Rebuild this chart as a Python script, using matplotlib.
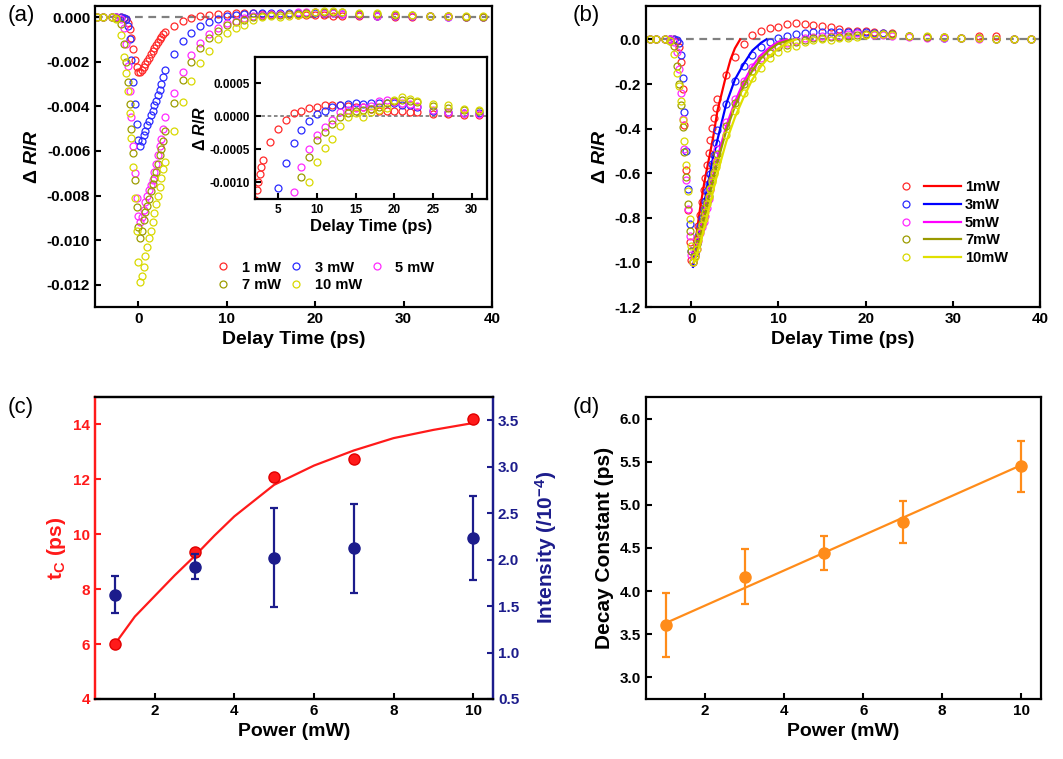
import numpy as np
import matplotlib
matplotlib.use("Agg")
import matplotlib.pyplot as plt
from matplotlib.legend_handler import HandlerTuple
import matplotlib.ticker as mtick

plt.rcParams["font.family"] = "Liberation Sans"
plt.rcParams["font.weight"] = "bold"
plt.rcParams["axes.labelweight"] = "bold"
plt.rcParams["axes.unicode_minus"] = False
plt.rcParams["mathtext.fontset"] = "custom"
plt.rcParams["mathtext.rm"] = "Liberation Sans:bold"
plt.rcParams["mathtext.it"] = "Liberation Sans:bold:italic"
plt.rcParams["mathtext.bf"] = "Liberation Sans:bold"
plt.rcParams["axes.linewidth"] = 1.6
for ax_name in ["xtick", "ytick"]:
    plt.rcParams[ax_name + ".direction"] = "in"
    plt.rcParams[ax_name + ".major.size"] = 4.5
    plt.rcParams[ax_name + ".major.width"] = 1.5
    plt.rcParams[ax_name + ".labelsize"] = 11

# %% data -- (a) raw transient reflectivity, units of 1e-3
delay = [-4.7, -4.0, -3.0, -2.5, -2.0,
         -1.6, -1.4, -1.2, -1.0, -0.8, -0.6, -0.4, -0.2, 0.0, 0.2, 0.4, 0.6,
         0.8, 1.0, 1.2, 1.4, 1.6, 1.8, 2.0, 2.2, 2.4, 2.6, 2.8, 3.0,
         4, 5, 6, 7, 8, 9, 10, 11, 12, 13, 14, 15, 16, 17, 18, 19, 20, 21, 22, 23,
         25, 27, 29, 31, 33, 35, 37, 39]

dr_1mw = [0.0, 0.01, 0.0, 0.01, 0.0,
          -0.02, -0.08, -0.25, -0.55, -0.95, -1.45, -1.9, -2.25, -2.45, -2.48, -2.38, -2.22,
          -2.08, -1.95, -1.81, -1.67, -1.54, -1.40, -1.26, -1.12, -0.99, -0.87, -0.76, -0.66,
          -0.39, -0.19, -0.05, 0.05, 0.09, 0.13, 0.14, 0.17, 0.18, 0.17, 0.16, 0.15, 0.14, 0.12, 0.09, 0.09, 0.09, 0.08, 0.07, 0.07,
          0.04, 0.03, 0.025, 0.015, 0.04, 0.04, 0.0, 0.01]
dr_3mw = [0.0, 0.0, 0.01, 0.0, 0.0,
          -0.02, -0.1, -0.4, -1.0, -1.9, -2.9, -3.9, -4.8, -5.5, -5.8, -5.55, -5.3,
          -5.1, -4.85, -4.65, -4.4, -4.2, -3.95, -3.75, -3.5, -3.25, -3.0, -2.7, -2.35,
          -1.67, -1.09, -0.7, -0.4, -0.2, -0.07, 0.03, 0.09, 0.14, 0.17, 0.19, 0.2, 0.19, 0.2, 0.2, 0.2, 0.2, 0.18, 0.17, 0.15,
          0.09, 0.07, 0.05, 0.05, 0.03, 0.02, 0.01, 0.02]
dr_5mw = [0.0, 0.0, 0.0, 0.0, -0.1,
          -0.5, -1.2, -2.2, -3.3, -4.5, -5.8, -7.0, -8.1, -8.9, -9.2, -8.95, -8.65,
          -8.3, -8.0, -7.75, -7.55, -7.3, -6.95, -6.6, -6.2, -5.8, -5.45, -5.0, -4.5,
          -3.4, -2.45, -1.7, -1.15, -0.76, -0.49, -0.28, -0.16, -0.06, 0.06, 0.1, 0.13, 0.14, 0.16, 0.24, 0.25, 0.22, 0.2, 0.19, 0.16,
          0.1, 0.07, 0.05, 0.04, 0.03, 0.0, 0.02, 0.01]
dr_7mw = [0.0, 0.0, 0.0, -0.05, -0.3,
          -1.2, -2.0, -2.9, -3.9, -5.0, -6.1, -7.3, -8.5, -9.4, -9.9, -9.6, -9.1,
          -8.75, -8.45, -8.15, -7.8, -7.5, -7.2, -6.95, -6.6, -6.2, -5.9, -5.55, -5.1,
          -3.85, -2.8, -2.0, -1.4, -0.92, -0.61, -0.35, -0.24, -0.11, -0.01, 0.05, 0.08, 0.1, 0.12, 0.15, 0.2, 0.23, 0.25, 0.24, 0.22,
          0.16, 0.13, 0.1, 0.08, 0.05, 0.03, 0.02, 0.02]
dr_10mw = [0.0, 0.0, 0.0, -0.1, -0.8,
           -1.8, -2.5, -3.3, -4.3, -5.4, -6.7, -8.1, -9.6, -11.0, -11.9, -11.6, -11.2,
           -10.7, -10.3, -9.9, -9.6, -9.2, -8.8, -8.4, -8.0, -7.6, -7.2, -6.8, -6.5,
           -5.1, -3.8, -2.85, -2.05, -1.5, -1.0, -0.69, -0.48, -0.34, -0.15, -0.01, 0.05, -0.01, 0.07, 0.1, 0.13, 0.25, 0.29, 0.27, 0.23,
           0.19, 0.17, 0.12, 0.1, 0.07, 0.05, 0.04, 0.03]

series = [dr_1mw, dr_3mw, dr_5mw, dr_7mw, dr_10mw]
labels_a = ["1 mW", "3 mW", "5 mW", "7 mW", "10 mW"]
labels_b = ["1mW", "3mW", "5mW", "7mW", "10mW"]
colors = ["#FF2A2A", "#2A2AFF", "#FF2AFF", "#9C9C00", "#D9D900"]
line_colors = ["#FF0000", "#0000FF", "#FF00FF", "#999900", "#E0E000"]

# (b) fitted decays (normalized)
fit_t = [
    [0.2, 0.5, 1.0, 1.5, 2.0, 2.5, 3.0, 3.5, 4.0, 4.5, 5.0, 5.6],
    [0.2, 0.5, 1.0, 1.5, 2.0, 2.5, 3.0, 3.5, 4.0, 5.0, 6.0, 7.0, 8.0, 8.6],
    [0.3, 0.5, 1.0, 1.5, 2.0, 2.5, 3.0, 4.0, 5.0, 6.0, 7.0, 8.0, 9.0, 10.0, 11.0],
    [0.3, 0.5, 1.0, 1.5, 2.0, 2.5, 3.0, 4.0, 5.0, 6.0, 7.0, 8.0, 9.0, 10.0, 11.5],
    [0.3, 0.5, 1.0, 1.5, 2.0, 2.5, 3.0, 4.0, 5.0, 6.0, 7.0, 8.0, 9.0, 10.0, 11.0, 12.0],
]
fit_y = [
    [-0.97, -0.9, -0.76, -0.64, -0.54, -0.44, -0.32, -0.24, -0.16, -0.09, -0.04, 0.0],
    [-1.02, -0.95, -0.84, -0.73, -0.63, -0.53, -0.45, -0.37, -0.29, -0.18, -0.11, -0.05, -0.015, 0.0],
    [-1.0, -0.96, -0.87, -0.78, -0.69, -0.61, -0.53, -0.39, -0.28, -0.19, -0.12, -0.07, -0.035, -0.01, 0.0],
    [-1.0, -0.97, -0.89, -0.8, -0.71, -0.63, -0.55, -0.41, -0.3, -0.21, -0.14, -0.085, -0.045, -0.018, 0.0],
    [-1.0, -0.98, -0.92, -0.84, -0.76, -0.68, -0.6, -0.46, -0.35, -0.26, -0.18, -0.12, -0.075, -0.04, -0.015, 0.0],
]

# (c) and (d)
power = [1, 3, 5, 7, 10]
t_c = [6.0, 9.35, 12.1, 12.75, 14.2]
tc_fit_power = [1, 1.5, 2, 2.5, 3, 3.5, 4, 5, 6, 7, 8, 9, 10]
tc_fit = [6.0, 7.0, 7.75, 8.5, 9.2, 9.95, 10.65, 11.8, 12.5, 13.05, 13.5, 13.8, 14.05]
intensity = [1.62, 1.925, 2.02, 2.12, 2.23]
intensity_err = [0.2, 0.13, 0.53, 0.48, 0.455]
decay = [3.61, 4.165, 4.444, 4.797, 5.445]
decay_err = [0.37, 0.32, 0.2, 0.245, 0.3]
decay_fit_power = [1, 10]
decay_fit = [3.63, 5.46]

# %% figure
fig = plt.figure(figsize=(10.63, 7.59), dpi=100)
ax_a = fig.add_axes([0.0894, 0.5955, 0.3735, 0.3966])
ax_in = fig.add_axes([0.2399, 0.7378, 0.2183, 0.1871])
ax_b = fig.add_axes([0.6077, 0.5955, 0.3706, 0.3966])
ax_c = fig.add_axes([0.0894, 0.0791, 0.3744, 0.3979])
ax_d = fig.add_axes([0.6077, 0.0791, 0.3716, 0.3979])

delay = np.array(delay)

# (a)
handles_a = []
for ser, col, lab in zip(series, colors, labels_a):
    y = np.array(ser) * 1e-3
    h, = ax_a.plot(delay, y, "o", mfc="none", mec=col, ms=5, mew=0.9, label=lab)
    handles_a.append(h)
    ax_in.plot(delay, y, "o", mfc="none", mec=col, ms=5, mew=0.9)
ax_a.axhline(0, color="#808080", lw=1.6, dashes=(3.5, 2.5), zorder=0)
ax_a.set_xlim(-4.9, 40)
ax_a.set_ylim(-0.013, 0.0005)
ax_a.set_xticks([0, 10, 20, 30, 40])
ax_a.set_yticks([0, -0.002, -0.004, -0.006, -0.008, -0.010, -0.012])
ax_a.yaxis.set_major_formatter(mtick.FormatStrFormatter("%.3f"))
ax_a.set_xlabel("Delay Time (ps)", fontsize=14)
ax_a.set_ylabel("Δ $\\mathit{R/R}$", fontsize=14)
order = [0, 3, 1, 4, 2]
ax_a.legend([handles_a[i] for i in order], [labels_a[i] for i in order], ncol=3,
            loc="lower left", bbox_to_anchor=(0.29, 0.03), frameon=False,
            fontsize=10.5, handlelength=1.0, handletextpad=0.8,
            columnspacing=0.5, labelspacing=0.25, borderaxespad=0)

# inset
ax_in.axhline(0, color="#808080", lw=1.3, dashes=(2, 1.5), zorder=0)
ax_in.set_xlim(2, 32)
ax_in.set_ylim(-0.00125, 0.0009)
ax_in.set_xticks([5, 10, 15, 20, 25, 30])
ax_in.set_yticks([-0.001, -0.0005, 0, 0.0005])
ax_in.yaxis.set_major_formatter(mtick.FormatStrFormatter("%.4f"))
ax_in.tick_params(labelsize=8.5)
ax_in.set_xlabel("Delay Time (ps)", fontsize=12, labelpad=2)
ax_in.set_ylabel("Δ $\\mathit{R/R}$", fontsize=11.5, labelpad=1)
ax_in.set_facecolor("white")

# (b)
handles_b = []
for ser, col, lcol, ft, fy, lab in zip(series, colors, line_colors, fit_t, fit_y, labels_b):
    y = np.array(ser)
    y = y / abs(y.min())
    hm, = ax_b.plot(delay, y, "o", mfc="none", mec=col, ms=5, mew=0.9)
    hl, = ax_b.plot(ft, fy, "-", color=lcol, lw=1.6)
    handles_b.append((hm, hl))
ax_b.axhline(0, color="#808080", lw=1.6, dashes=(3.5, 2.5), zorder=0)
ax_b.set_xlim(-5.2, 40)
ax_b.set_ylim(-1.2, 0.15)
ax_b.set_xticks([0, 10, 20, 30, 40])
ax_b.set_yticks([0.0, -0.2, -0.4, -0.6, -0.8, -1.0, -1.2])
ax_b.yaxis.set_major_formatter(mtick.FormatStrFormatter("%.1f"))
ax_b.set_xlabel("Delay Time (ps)", fontsize=14)
ax_b.set_ylabel("Δ $\\mathit{R/R}$", fontsize=14)
ax_b.legend(handles_b, labels_b, handler_map={tuple: HandlerTuple(ndivide=None, pad=0)},
            loc="upper left", bbox_to_anchor=(0.599, 0.44), frameon=False,
            fontsize=10.5, handlelength=5.0, handletextpad=0.3, labelspacing=0.25,
            borderaxespad=0)

# (c)
red = "#FF1A1A"
navy = "#1C1C8C"
ax_c.plot(tc_fit_power, tc_fit, "-", color=red, lw=1.6)
ax_c.plot(power, t_c, "o", color=red, ms=8, mec="#E00000")
ax_c.set_xlim(0.5, 10.5)
ax_c.set_ylim(4, 15)
ax_c.set_xticks([2, 4, 6, 8, 10])
ax_c.set_yticks([4, 6, 8, 10, 12, 14])
ax_c.tick_params(axis="y", colors=red)
ax_c.set_xlabel("Power (mW)", fontsize=14)
ax_c.set_ylabel("t$_\\mathrm{C}$ (ps)", fontsize=15, color=red)
ax_c2 = ax_c.twinx()
ax_c2.errorbar(power, intensity, yerr=intensity_err, fmt="o", color=navy, ms=8,
               elinewidth=1.6, capsize=3, capthick=1.6)
ax_c2.set_ylim(0.5, 3.75)
ax_c2.set_yticks([0.5, 1.0, 1.5, 2.0, 2.5, 3.0, 3.5])
ax_c2.yaxis.set_major_formatter(mtick.FormatStrFormatter("%.1f"))
ax_c2.tick_params(axis="y", colors=navy)
ax_c2.set_ylabel("Intensity (/10$^{\\mathrm{-4}}$)", fontsize=15, color=navy, labelpad=10)
for a in (ax_c, ax_c2):
    a.spines["left"].set_color(red)
    a.spines["right"].set_color(navy)

# (d)
orange = "#FF8C1A"
ax_d.plot(decay_fit_power, decay_fit, "-", color=orange, lw=1.6)
ax_d.errorbar(power, decay, yerr=decay_err, fmt="o", color=orange, ms=8,
              elinewidth=1.6, capsize=3, capthick=1.6)
ax_d.set_xlim(0.5, 10.5)
ax_d.set_ylim(2.75, 6.25)
ax_d.set_xticks([2, 4, 6, 8, 10])
ax_d.set_yticks([3.0, 3.5, 4.0, 4.5, 5.0, 5.5, 6.0])
ax_d.yaxis.set_major_formatter(mtick.FormatStrFormatter("%.1f"))
ax_d.set_xlabel("Power (mW)", fontsize=14)
ax_d.set_ylabel("Decay Constant (ps)", fontsize=15)

# panel labels
for txt, x, y in [("(a)", 8, 15), ("(b)", 573, 15), ("(c)", 8, 408), ("(d)", 573, 408)]:
    fig.text(x / 1063, 1 - y / 759, txt, fontsize=16, fontweight="normal",
             ha="left", va="center")

fig.savefig("out.png", dpi=100)
